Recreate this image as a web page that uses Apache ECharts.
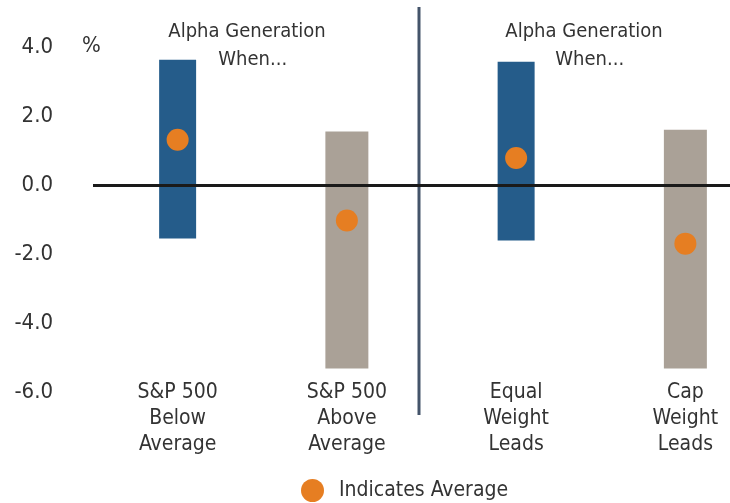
<!DOCTYPE html>
<html>
<head>
<meta charset="utf-8">
<script src="https://cdn.jsdelivr.net/npm/echarts@6/dist/echarts.min.js"></script>
<style>
html,body{margin:0;padding:0;background:#fff;}
#chart{width:730px;height:503px;}
</style>
</head>
<body>
<div id="chart"></div>
<script>
// ---- data ----
const categories = ['S&P 500\nBelow\nAverage', 'S&P 500\nAbove\nAverage', 'Equal\nWeight\nLeads', 'Cap\nWeight\nLeads'];
const rangeLow = [-1.55, -5.32, -1.61, -5.32];
const rangeHigh = [3.63, 1.55, 3.57, 1.60];
const averages = [1.31, -1.03, 0.78, -1.70];
const rangeGroup = ['blue', 'gray', 'blue', 'gray'];
const yMin = -6, yMax = 4, yStep = 2;
const panelTitles = ['Alpha Generation\n  When...', 'Alpha Generation\n  When...'];
const legendLabel = 'Indicates Average';
const unitLabel = '%';

// ---- styles ----
const FONT = "'Liberation Sans Narrow', 'DejaVu Sans Condensed', 'Roboto Condensed', sans-serif";
const TEXT = '#333333';
const BLUE = '#255C8A', GRAY = '#AAA197', ORANGE = '#E67E22', DIVIDER = '#44546A';

function rangeData(group) {
  const out = [];
  categories.forEach((c, i) => { if (rangeGroup[i] === group) out.push([i, rangeLow[i], rangeHigh[i]]); });
  return out;
}
function rangeRenderer(color, frac) {
  return function (params, api) {
    const x = api.value(0);
    const lo = api.coord([x, api.value(1)]);
    const hi = api.coord([x, api.value(2)]);
    const w = api.size([1, 0])[0] * frac;
    return { type: 'rect', shape: { x: lo[0] - w / 2, y: hi[1], width: w, height: lo[1] - hi[1] }, style: { fill: color } };
  };
}

const chart = echarts.init(document.getElementById('chart'), null, { renderer: 'canvas' });
const option = {
  animation: false,
  backgroundColor: '#fff',
  textStyle: { fontFamily: FONT },
  title: [
    { text: unitLabel, left: 77, top: 30, textStyle: { fontFamily: FONT, fontSize: 22, fontWeight: 'normal', color: TEXT } },
    { text: panelTitles[0], left: 242, top: 13, textAlign: 'center', textStyle: { fontFamily: FONT, fontSize: 20, fontWeight: 'normal', color: TEXT, lineHeight: 28 } },
    { text: panelTitles[1], left: 579, top: 13, textAlign: 'center', textStyle: { fontFamily: FONT, fontSize: 20, fontWeight: 'normal', color: TEXT, lineHeight: 28 } }
  ],
  legend: {
    data: [legendLabel], left: 296, top: 474, icon: 'circle', itemWidth: 23, itemHeight: 23, itemGap: 0,
    textStyle: { fontFamily: FONT, fontSize: 21, color: TEXT, padding: [0, 0, 0, 10] }
  },
  grid: [
    { left: 93, width: 677, top: 47, height: 345, outerBoundsMode: 'none', containLabel: false },
    { left: 93, width: 652, top: 7, height: 408, outerBoundsMode: 'none', containLabel: false }
  ],
  xAxis: [
    {
      type: 'category', data: categories, gridIndex: 0, boundaryGap: true,
      axisLine: { show: false, onZero: false }, axisTick: { show: false },
      axisLabel: { margin: -12, fontFamily: FONT, fontSize: 21, color: TEXT, lineHeight: 26, interval: 0 }
    },
    { type: 'value', gridIndex: 1, min: 0, max: categories.length, show: false }
  ],
  yAxis: [
    {
      type: 'value', gridIndex: 0, min: yMin, max: yMax, interval: yStep,
      axisLine: { show: false }, axisTick: { show: false }, splitLine: { show: false },
      axisLabel: { margin: 40, fontFamily: FONT, fontSize: 22, color: TEXT, formatter: v => v.toFixed(1) }
    },
    { type: 'value', gridIndex: 1, min: 0, max: 1, show: false }
  ],
  series: [
    {
      name: 'zero', type: 'line', data: [], xAxisIndex: 0, yAxisIndex: 0,
      markLine: { silent: true, symbol: 'none', label: { show: false }, lineStyle: { color: '#1a1a1a', width: 3, type: 'solid' }, data: [{ yAxis: 0 }] }
    },
    {
      name: 'divider', type: 'line', xAxisIndex: 1, yAxisIndex: 1, showSymbol: false, silent: true,
      data: [[categories.length / 2, 0], [categories.length / 2, 1]],
      lineStyle: { color: DIVIDER, width: 3 }
    },
    {
      name: 'Blue range', type: 'custom', xAxisIndex: 0, yAxisIndex: 0,
      renderItem: rangeRenderer(BLUE, 37 / 169.3), encode: { x: 0, y: [1, 2] }, data: rangeData('blue'), z: 3
    },
    {
      name: 'Gray range', type: 'custom', xAxisIndex: 0, yAxisIndex: 0,
      renderItem: rangeRenderer(GRAY, 43 / 169.3), encode: { x: 0, y: [1, 2] }, data: rangeData('gray'), z: 3
    },
    {
      name: legendLabel, type: 'scatter', xAxisIndex: 0, yAxisIndex: 0,
      symbol: 'circle', symbolSize: 22, itemStyle: { color: ORANGE, opacity: 1 },
      data: averages.map((v, i) => [i, v]), z: 5
    }
  ]
};
chart.setOption(option);
</script>
</body>
</html>
